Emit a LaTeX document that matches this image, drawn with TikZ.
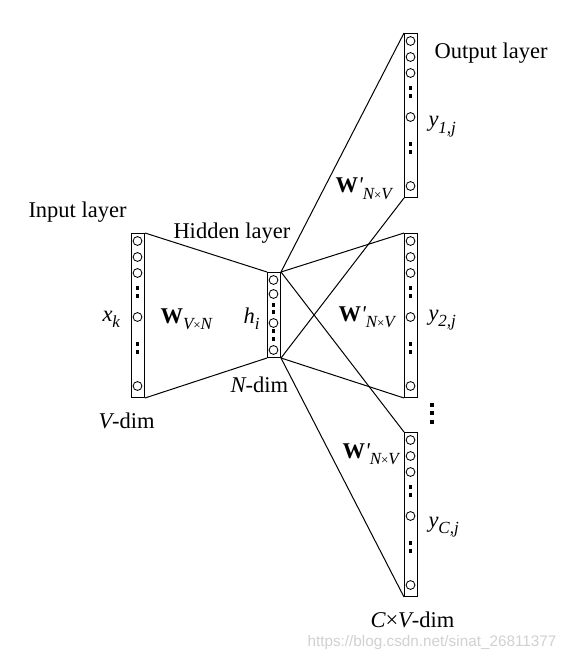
\documentclass[tikz,border=0pt]{standalone}
\usepackage{fontspec}
\setmainfont{Liberation Serif}
\newfontfamily\wmfont{Liberation Sans}
\newcommand{\fs}{\fontsize{22.5}{26}\selectfont}
\newcommand{\sbs}[1]{\raisebox{-0.3em}{\fontsize{17}{17}\selectfont\itshape #1}}
\newcommand{\tms}{{\upshape\fontsize{13}{13}\selectfont\texttimes}}
\begin{document}
\begin{tikzpicture}[x=1pt,y=-1pt,line width=1pt,
  layerbox/.style={draw,rectangle,minimum width=13pt,minimum height=164pt,inner sep=0pt,anchor=north west},
  hidbox/.style={draw,rectangle,minimum width=13pt,minimum height=85pt,inner sep=0pt,anchor=north west},
  lbl/.style={anchor=base west,inner sep=0pt,font=\fs},
  unitc/.style={line width=0.85pt},
  vcol/.pic={
    \node[layerbox] (-box) at (0,0) {};
    \foreach \yy in {8,24,40,84,153} \draw[unitc] (6.5,\yy) circle[radius=4.4pt];
    \foreach \yy in {55,63,111,119} \fill (4.75,{\yy-1.75}) rectangle ++(3.5,3.5);
  }]
\useasboundingbox[fill=white] (0,0) rectangle (567,660);

% columns
\pic (in) at (131,233) {vcol};
\pic (oa) at (404,33) {vcol};
\pic (ob) at (404,233) {vcol};
\pic (oc) at (404,432) {vcol};

\node[hidbox] (hid) at (267,272) {};
\foreach \yy in {8,22,51,78} \draw[unitc] (273.5,{272+\yy}) circle[radius=4.4pt];
\foreach \yy in {33,40,59,67} \fill (271.75,{272+\yy-1.75}) rectangle ++(3.5,3.5);

% vertical dots between output layers
\foreach \yy in {405,413,422} \fill (429.5,{\yy-2}) rectangle ++(4,4);

% connectors
\draw (in-box.north east) -- (hid.north west);
\draw (in-box.south east) -- (hid.south west);
\draw (hid.north east) -- (oa-box.north west);
\draw (hid.south east) -- (oa-box.south west);
\draw (hid.north east) -- (ob-box.north west);
\draw (hid.south east) -- (ob-box.south west);
\draw (hid.north east) -- (oc-box.north west);
\draw (hid.south east) -- (oc-box.south west);

% labels
\node[lbl] (tin) at (28,217) {Input layer};
\node[lbl] (thid) at (173,238) {Hidden layer};
\node[lbl] (tout) at (434,59) {Output layer};
\node[lbl] (txk) at (102,321) {\itshape x\sbs{k}};
\node[lbl] (twi) at (160,323) {\textbf{W}\sbs{V\tms N}};
\node[lbl] (thi) at (243,323) {\itshape h\sbs{i}};
\node[lbl] (tnd) at (230,392) {\itshape N\upshape -dim};
\node[lbl] (tvd) at (98,428) {\itshape V\upshape -dim};
\node[lbl] (twa) at (335,193) {\textbf{W}{\itshape\textquotesingle}\sbs{N\tms V}};
\node[lbl] (twb) at (338,321) {\textbf{W}{\itshape\textquotesingle}\sbs{N\tms V}};
\node[lbl] (twc) at (342,458) {\textbf{W}{\itshape\textquotesingle}\sbs{N\tms V}};
\node[lbl] (tya) at (428,127) {\itshape y\sbs{1,j}};
\node[lbl] (tyb) at (428,320) {\itshape y\sbs{2,j}};
\node[lbl] (tyc) at (428,527) {\itshape y\sbs{C,j}};
\node[lbl] (tcv) at (370,627) {\itshape C\upshape\texttimes\itshape V\upshape -dim};
\node[anchor=base east,inner sep=0pt,text=black!18,font=\wmfont\fontsize{15.3}{17}\selectfont] (wm) at (557,646) {https://blog.csdn.net/sinat\_26811377};
\end{tikzpicture}
\end{document}
